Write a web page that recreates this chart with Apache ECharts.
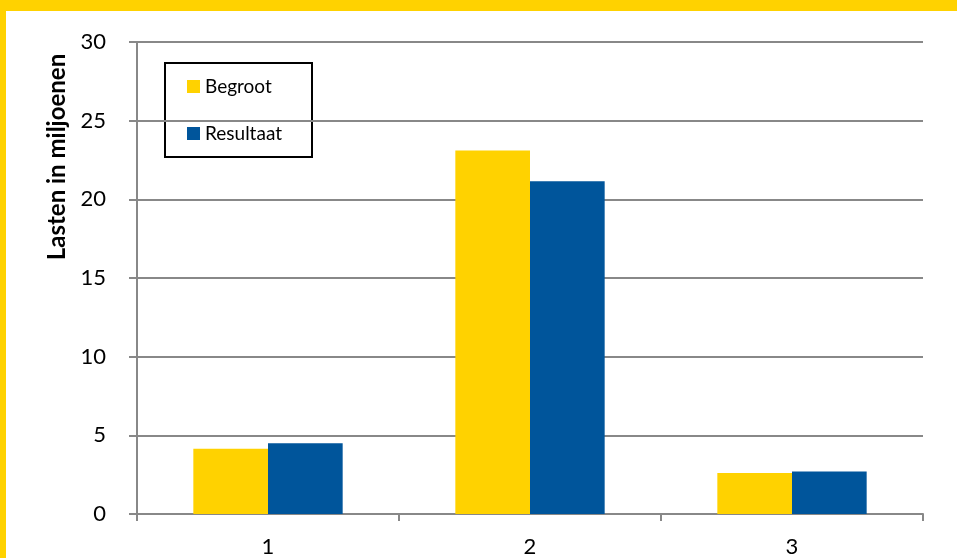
<!DOCTYPE html>
<html>
<head>
<meta charset="utf-8">
<script src="https://cdn.jsdelivr.net/npm/echarts@6/dist/echarts.min.js"></script>
<style>
  html, body { margin: 0; padding: 0; background: #fff; }
  #chart { width: 957px; height: 558px; }
</style>
</head>
<body>
<div id="chart"></div>
<script>
// data
const categories = ['1', '2', '3']
const begroot = [4.15, 23.1, 2.6]
const resultaat = [4.5, 21.15, 2.7]
const yTicks = { min: 0, max: 30, interval: 5 }

const yellow = '#FFD200'
const blue = '#00559B'
const font = 'Lato, "Open Sans", sans-serif'

const chart = echarts.init(document.getElementById('chart'))
chart.setOption({
  backgroundColor: '#fff',
  animation: false,
  textStyle: { fontFamily: font },
  grid: { left: 137, top: 42, width: 786, height: 472 },
  legend: {
    orient: 'vertical',
    left: 187,
    top: 77,
    padding: 0,
    itemGap: 28,
    itemWidth: 13,
    itemHeight: 13,
    icon: 'rect',
    textStyle: { fontSize: 19, color: '#000', fontFamily: font },
    data: ['Begroot', 'Resultaat']
  },
  xAxis: {
    type: 'category',
    data: categories,
    axisLine: { lineStyle: { color: '#888', width: 2 } },
    axisTick: { show: true, length: 7, lineStyle: { color: '#888', width: 2 } },
    axisLabel: { fontSize: 22, color: '#000', margin: 22 }
  },
  yAxis: {
    type: 'value',
    min: yTicks.min,
    max: yTicks.max,
    interval: yTicks.interval,
    axisLine: { show: true, lineStyle: { color: '#888', width: 2 } },
    axisTick: { show: true, length: 8, lineStyle: { color: '#888', width: 2 } },
    splitLine: { lineStyle: { color: '#888', width: 2 } },
    axisLabel: { fontSize: 22, color: '#000', margin: 31 }
  },
  series: [
    {
      name: 'Begroot',
      type: 'bar',
      data: begroot,
      barGap: 0,
      barCategoryGap: '43%',
      itemStyle: { color: yellow }
    },
    {
      name: 'Resultaat',
      type: 'bar',
      data: resultaat,
      itemStyle: { color: blue }
    }
  ],
  graphic: [
    // yellow frame on the left and top
    { type: 'rect', shape: { x: 0, y: 0, width: 6, height: 558 }, style: { fill: yellow }, silent: true },
    { type: 'rect', shape: { x: 0, y: 0, width: 957, height: 11 }, style: { fill: yellow }, silent: true },
    // legend box
    { type: 'rect', z: 0, shape: { x: 165, y: 63, width: 147, height: 94 }, style: { fill: '#fff', stroke: '#000', lineWidth: 2 } },
    {
      type: 'text',
      x: 57,
      y: 157,
      rotation: Math.PI / 2,
      style: {
        text: 'Lasten in miljoenen',
        font: 'bold 24px ' + font,
        fill: '#000',
        align: 'center',
        verticalAlign: 'middle'
      }
    }
  ]
})
</script>
</body>
</html>
